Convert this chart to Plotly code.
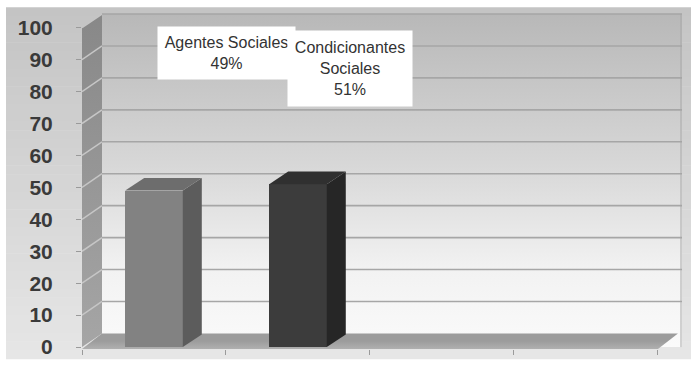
import plotly.graph_objects as go

# ---- data ----
categories = ["Agentes Sociales", "Condicionantes Sociales"]
values = [49, 51]
label_lines = [["Agentes Sociales"], ["Condicionantes", "Sociales"]]
y_ticks = list(range(0, 101, 10))
slot_edges = [-0.5, 0.5, 1.5, 2.5, 3.5]
x_pos = [0, 1]

# ---- styles ----
bar_front = ["#828282", "#3c3c3c"]
bar_top = ["#6d6d6d", "#303030"]
bar_side = ["#5c5c5c", "#262626"]

W, H = 691, 367
ML, MR, MT, MB = 82, 9, 13, 10
X0, X1 = -0.5, 3.667
Y0, Y1 = -0.6, 104.6
ux = (X1 - X0) / (W - ML - MR)   # data units per pixel
uy = (Y1 - Y0) / (H - MT - MB)
WALL_DX, WALL_DY = 20 * ux, 14 * uy
BAR_DX, BAR_DY = 19 * ux, 13 * uy
BAR_W = 0.4
TOP = y_ticks[-1]


def px2paper(px, py):
    return (px - ML) / (W - ML - MR), (H - MB - py) / (H - MT - MB)


fig = go.Figure()

# back wall
fig.add_trace(go.Scatter(
    x=[X0 + WALL_DX, X1, X1, X0 + WALL_DX],
    y=[0, 0, TOP + WALL_DY, TOP + WALL_DY],
    fill="toself", mode="lines", line=dict(width=0),
    fillgradient=dict(type="vertical", start=0, stop=TOP + WALL_DY,
                      colorscale=[[0, "#fbfbfb"], [0.25, "#f2f2f2"], [0.55, "#d8d8d8"], [1, "#b8b8b8"]]),
    hoverinfo="skip", showlegend=False))
# right edge of back wall
fig.add_trace(go.Scatter(x=[X1 - ux, X1 - ux], y=[0, TOP + WALL_DY], mode="lines",
                         line=dict(color="#a8a8a8", width=1), hoverinfo="skip", showlegend=False))

# left wall
fig.add_trace(go.Scatter(
    x=[X0, X0, X0 + WALL_DX, X0 + WALL_DX],
    y=[0, TOP, TOP + WALL_DY, WALL_DY],
    fill="toself", mode="lines", line=dict(width=0),
    fillgradient=dict(type="vertical", start=0, stop=TOP + WALL_DY,
                      colorscale=[[0, "#a6a6a6"], [1, "#888888"]]),
    hoverinfo="skip", showlegend=False))

# gridlines: diagonals on side wall, horizontals on back wall
gx_d, gy_d, gx_b, gy_b = [], [], [], []
for t in y_ticks[1:]:
    gx_d += [X0, X0 + WALL_DX, None]
    gy_d += [t, t + WALL_DY, None]
    gx_b += [X0 + WALL_DX, X1, None]
    gy_b += [t + WALL_DY, t + WALL_DY, None]
fig.add_trace(go.Scatter(x=gx_d, y=gy_d, mode="lines", line=dict(color="#c6c6c6", width=1.5),
                         hoverinfo="skip", showlegend=False))
fig.add_trace(go.Scatter(x=gx_b, y=gy_b, mode="lines", line=dict(color="#a6a6a6", width=1.6),
                         hoverinfo="skip", showlegend=False))

# floor
fx0, fx1 = slot_edges[0], slot_edges[-1]
fig.add_trace(go.Scatter(
    x=[fx0, fx1, fx1 + WALL_DX, fx0 + WALL_DX],
    y=[Y0, Y0, WALL_DY, WALL_DY],
    fill="toself", mode="lines", line=dict(width=0),
    fillgradient=dict(type="vertical", start=Y0, stop=WALL_DY,
                      colorscale=[[0, "#c4c4c4"], [1, "#9c9c9c"]]),
    hoverinfo="skip", showlegend=False))

# bars (drawn on an overlaid axis pair so they sit above the walls)
fig.add_trace(go.Bar(x=x_pos, y=values, width=BAR_W, marker=dict(color=bar_front, line=dict(width=0)),
                     hoverinfo="skip", showlegend=False, xaxis="x2", yaxis="y2"))
for xc, v, cs, ct in zip(x_pos, values, bar_side, bar_top):
    xl, xr = xc - BAR_W / 2, xc + BAR_W / 2
    fig.add_trace(go.Scatter(x=[xr, xr, xr + BAR_DX, xr + BAR_DX], y=[0, v, v + BAR_DY, BAR_DY],
                             fill="toself", fillcolor=cs, mode="lines", line=dict(width=0),
                             hoverinfo="skip", showlegend=False, xaxis="x2", yaxis="y2"))
    fig.add_trace(go.Scatter(x=[xl, xr, xr + BAR_DX, xl + BAR_DX], y=[v, v, v + BAR_DY, v + BAR_DY],
                             fill="toself", fillcolor=ct, mode="lines", line=dict(width=0),
                             hoverinfo="skip", showlegend=False, xaxis="x2", yaxis="y2"))

# outer background gradient
shapes = []
N = 40
top_px, bot_px = 7, 367
c_top, c_bot = 196, 230
for i in range(N):
    p0 = top_px + (bot_px - top_px) * i / N
    p1 = top_px + (bot_px - top_px) * (i + 1) / N + 0.5
    c = round(c_top + (c_bot - c_top) * i / (N - 1))
    xa, ya = px2paper(6, p0)
    xb, yb = px2paper(W + 2, p1)
    shapes.append(dict(type="rect", xref="paper", yref="paper", x0=xa, x1=xb, y0=yb, y1=ya,
                       fillcolor=f"rgb({c},{c},{c})", line=dict(width=0), layer="below"))

# data labels
annotations = []
boxes = [(158, 28, 295, 80), (288, 32, 412, 107)]
for lines, v, (bx0, by0, bx1, by1) in zip(label_lines, values, boxes):
    cx, cy = px2paper((bx0 + bx1) / 2, (by0 + by1) / 2)
    annotations.append(dict(
        text="<br>".join(lines + [f"{v}%"]), xref="paper", yref="paper", x=cx, y=cy,
        xanchor="center", yanchor="middle", showarrow=False,
        width=bx1 - bx0, height=by1 - by0, borderpad=0, bgcolor="white",
        font=dict(family="Liberation Sans, Arial, sans-serif", size=16, color="#333333"),
        align="center", valign="middle"))

axis_common = dict(fixedrange=True, showgrid=False, zeroline=False, showline=False)
fig.update_layout(
    width=W, height=H, margin=dict(l=ML, r=MR, t=MT, b=MB),
    paper_bgcolor="white", plot_bgcolor="rgba(0,0,0,0)",
    shapes=shapes, annotations=annotations, bargap=0,
    xaxis=dict(range=[X0, X1], tickvals=slot_edges, ticks="outside", ticklen=5,
               tickcolor="#9a9a9a", tickwidth=1.2, showticklabels=False, **axis_common),
    yaxis=dict(range=[Y0, Y1], tickvals=y_ticks, ticks="outside", ticklen=5,
               tickcolor="#9a9a9a", tickwidth=1.2, ticklabelstandoff=19,
               tickfont=dict(family="Liberation Sans, Arial, sans-serif", size=21,
                             color="#3a3a3a", weight="bold"),
               **axis_common),
    xaxis2=dict(range=[X0, X1], overlaying="x", visible=False, **axis_common),
    yaxis2=dict(range=[Y0, Y1], overlaying="y", visible=False, **axis_common),
)

fig.write_html("out.html")
